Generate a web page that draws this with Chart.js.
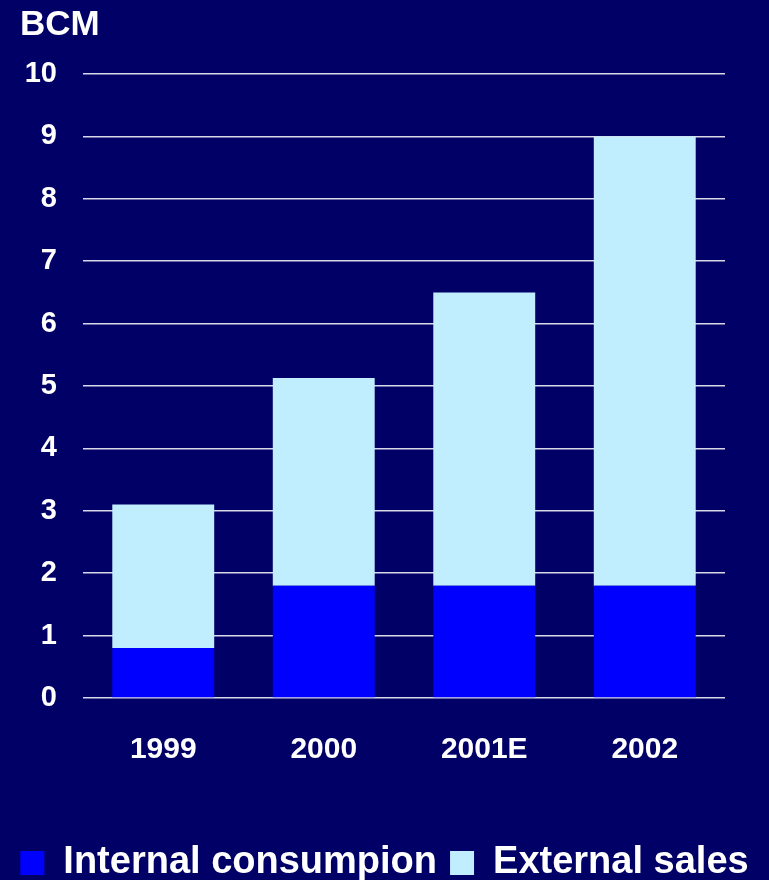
<!DOCTYPE html>
<html>
<head>
<meta charset="utf-8">
<script src="https://cdn.jsdelivr.net/npm/chart.js@4/dist/chart.umd.min.js"></script>
<style>
  html, body { margin: 0; padding: 0; background: #000066; }
  #wrap { width: 769px; height: 880px; position: relative; }
</style>
</head>
<body>
<div id="wrap"><canvas id="c" width="769" height="880"></canvas></div>
<script>
const categories = ['1999', '2000', '2001E', '2002'];
const internalConsumption = [0.8, 1.8, 1.8, 1.8];
const externalSales = [2.3, 3.33, 4.7, 7.2];
const yTicks = [0, 1, 2, 3, 4, 5, 6, 7, 8, 9, 10];
const unitLabel = 'BCM';

const FONT = "'Liberation Sans', Arial, sans-serif";

const bgPlugin = {
  id: 'bg',
  beforeDraw(chart) {
    const ctx = chart.ctx;
    ctx.save();
    ctx.fillStyle = '#000066';
    ctx.fillRect(0, 0, chart.width, chart.height);
    ctx.restore();
  },
  afterDraw(chart) {
    const ctx = chart.ctx;
    ctx.save();
    ctx.fillStyle = '#FFFFFF';
    ctx.font = 'bold 35px ' + FONT;
    ctx.textAlign = 'left';
    ctx.textBaseline = 'alphabetic';
    ctx.fillText(unitLabel, 20, 35);
    ctx.restore();
  }
};

new Chart(document.getElementById('c'), {
  type: 'bar',
  data: {
    labels: categories,
    datasets: [
      { label: 'Internal consumpion', data: internalConsumption, backgroundColor: '#0000FF', borderWidth: 0 },
      { label: 'External sales', data: externalSales, backgroundColor: '#C0EEFF', borderWidth: 0 }
    ]
  },
  options: {
    responsive: false,
    animation: false,
    devicePixelRatio: 1,
    layout: { padding: { left: 0, right: 0, top: 74, bottom: -12 } },
    datasets: { bar: { categoryPercentage: 1, barPercentage: 0.635 } },
    plugins: {
      tooltip: { enabled: false },
      title: { display: false },
      legend: {
        position: 'bottom',
        labels: {
          color: '#FFFFFF',
          font: { family: FONT, size: 38, weight: 'bold' },
          boxWidth: 24,
          boxHeight: 24,
          padding: 13
        }
      }
    },
    scales: {
      x: {
        stacked: true,
        grid: { display: false, drawTicks: false },
        border: { display: false },
        ticks: {
          color: '#FFFFFF',
          font: { family: FONT, size: 30, weight: 'bold' },
          padding: 34,
          maxRotation: 0
        },
        afterFit(scale) { scale.height = 133; }
      },
      y: {
        stacked: true,
        min: 0,
        max: 10,
        afterBuildTicks(scale) { scale.ticks = yTicks.map(v => ({ value: v })); },
        grid: { color: '#D8D8E8', lineWidth: 1.5, drawTicks: false },
        border: { display: false },
        ticks: {
          color: '#FFFFFF',
          font: { family: FONT, size: 29, weight: 'bold' },
          padding: 26
        },
        afterFit(scale) { scale.width = 83; }
      },
      yRight: {
        position: 'right',
        display: true,
        min: 0,
        max: 10,
        grid: { display: false, drawTicks: false },
        border: { display: false },
        ticks: { display: false },
        afterFit(scale) { scale.width = 44; }
      }
    }
  },
  plugins: [bgPlugin]
});
</script>
</body>
</html>
